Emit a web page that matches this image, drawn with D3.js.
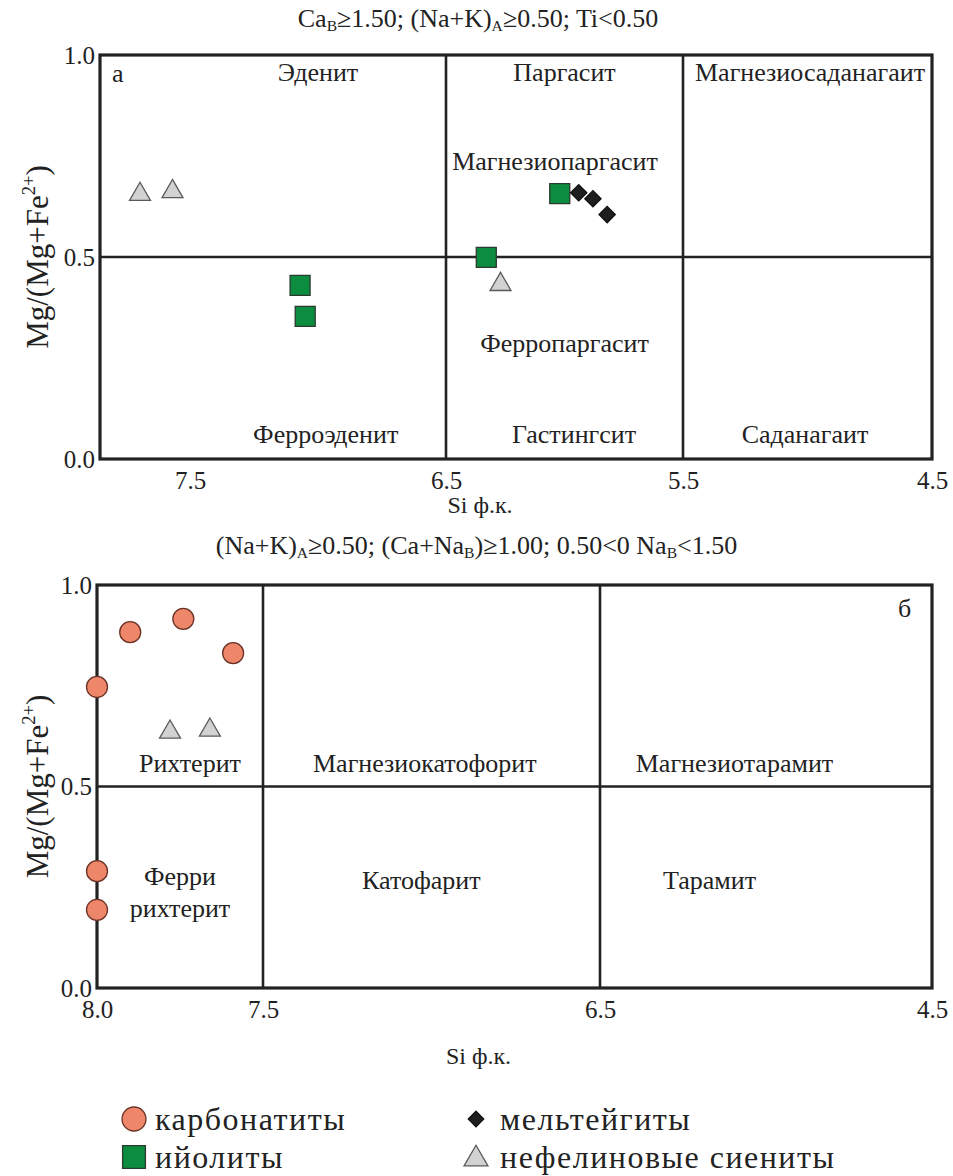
<!DOCTYPE html>
<html>
<head>
<meta charset="utf-8">
<script src="https://cdn.jsdelivr.net/npm/d3@7"></script>
<style>
  body { margin: 0; background: #fff; }
</style>
</head>
<body>
<svg id="svg" width="953" height="1176"></svg>
<script>
// --- data: [Si ф.к., Mg/(Mg+Fe2+)] ---
const syenitesA = [[7.70, 0.660], [7.57, 0.667], [6.27, 0.437]];
const ijolitesA = [[7.07, 0.430], [7.05, 0.353], [6.33, 0.499], [6.02, 0.657]];
const melteigitesA = [[5.94, 0.659], [5.88, 0.644], [5.82, 0.605]];

const carbonatitesB = [[7.90, 0.883], [7.74, 0.916], [7.59, 0.831], [8.00, 0.747], [8.00, 0.290], [8.00, 0.194]];
const syenitesB = [[7.78, 0.640], [7.66, 0.645]];

const xTicksA = [7.5, 6.5, 5.5, 4.5];
const xTicksB = [8.0, 7.5, 6.5, 4.5];
const yTicks = [0.0, 0.5, 1.0];
const xSplitA = [6.5, 5.5];
const xSplitB = [7.5, 6.5];
const ySplit = 0.5;

// field names, anchored in diagram units
const fieldsA = [
    ["Эденит", 7.0, 0.95], ["Паргасит", 6.0, 0.95], ["Магнезиосаданагаит", 4.99, 0.95],
    ["Магнезиопаргасит", 6.04, 0.73], ["Ферропаргасит", 6.0, 0.28],
    ["Ферроэденит", 6.97, 0.055], ["Гастингсит", 5.96, 0.055], ["Саданагаит", 5.01, 0.055]
];
const fieldsB = [
    ["Рихтерит", 7.72, 0.55], ["Магнезиокатофорит", 7.02, 0.55], ["Магнезиотарамит", 5.69, 0.55],
    ["Ферри", 7.75, 0.27], ["рихтерит", 7.75, 0.19],
    ["Катофарит", 7.03, 0.26], ["Тарамит", 5.84, 0.26]
];

const legendItems = [
    ["карбонатиты", "circle"], ["ийолиты", "square"],
    ["мельтейгиты", "diamond"], ["нефелиновые сиениты", "triangle"]
];

const FONT = "'Liberation Serif', 'Times New Roman', serif";
const svg = d3.select("#svg");

const styles = {
    circle: { fill: "#ee8769", stroke: "#6b3226" },
    square: { fill: "#0b8c3e", stroke: "#2a3a2e" },
    diamond: { fill: "#1e1e1e", stroke: "#111" },
    triangle: { fill: "#d2d2d2", stroke: "#5a5a5a" }
};

function symbolPath(kind, s) {
    if (kind === "circle") return d3.symbol(d3.symbolCircle, Math.PI * 10.5 * 10.5 * s)();
    if (kind === "square") return d3.symbol(d3.symbolSquare, 20 * 20 * s)();
    if (kind === "diamond") return d3.symbol(d3.symbolSquare, 11.5 * 11.5 * s)();
    return d3.symbol(d3.symbolTriangle, 190 * s)();
}

function drawMarks(g, data, kind, x, y, s = 1) {
    g.selectAll(null)
        .data(data)
        .join("path")
        .attr("d", symbolPath(kind, s))
        .attr("transform", d => `translate(${x(d[0])},${y(d[1])})` + (kind === "diamond" ? " rotate(45)" : "") + (kind === "triangle" ? " translate(0,2)" : ""))
        .attr("fill", styles[kind].fill)
        .attr("stroke", styles[kind].stroke)
        .attr("stroke-width", 1.3);
}

function label(sel, size) {
    return sel.style("font-family", FONT).style("font-size", size + "px").style("fill", "#222");
}

// text with sub/superscripts: parts = [[text, "sub"|"sup"|null], ...]
function richText(sel, parts, size) {
    parts.forEach(([t, k]) => {
        const ts = sel.append("tspan").text(t);
        if (k === "sub") ts.style("font-size", (size * 0.6) + "px").attr("baseline-shift", "-25%");
        if (k === "sup") ts.style("font-size", (size * 0.6) + "px").attr("baseline-shift", "55%");
    });
}

function drawPanel(opt) {
    const { x, y, xTicks, splits, fields, title, titleY, letter, letterPos } = opt;
    const g = svg.append("g");
    const [x0, x1] = d3.extent(x.range());
    const [y1, y0] = y.range();

    // axes (labels only, frame drawn separately)
    const xa = g.append("g")
        .attr("transform", `translate(0,${y1})`)
        .call(d3.axisBottom(x).tickValues(xTicks).tickSize(0).tickPadding(12).tickFormat(d3.format(".1f")));
    const ya = g.append("g")
        .attr("transform", `translate(${x0},0)`)
        .call(d3.axisLeft(y).tickValues(yTicks).tickSize(0).tickPadding(5).tickFormat(d3.format(".1f")));
    [xa, ya].forEach(a => {
        a.select(".domain").remove();
        label(a.selectAll("text"), 25);
    });

    // field boundaries
    g.selectAll(null).data(splits).join("line")
        .attr("x1", d => x(d)).attr("x2", d => x(d))
        .attr("y1", y0).attr("y2", y1)
        .attr("stroke", "#222").attr("stroke-width", 2.6);
    g.append("line")
        .attr("x1", x0).attr("x2", x1)
        .attr("y1", y(ySplit)).attr("y2", y(ySplit))
        .attr("stroke", "#222").attr("stroke-width", 2.6);

    g.append("rect")
        .attr("x", x0).attr("y", y0)
        .attr("width", x1 - x0).attr("height", y1 - y0)
        .attr("fill", "none").attr("stroke", "#222").attr("stroke-width", 3.2);

    label(g.selectAll(null).data(fields).join("text"), 26)
        .attr("x", d => x(d[1])).attr("y", d => y(d[2]))
        .attr("text-anchor", "middle")
        .attr("dominant-baseline", "middle")
        .text(d => d[0]);

    label(g.append("text"), 26)
        .attr("x", letterPos[0]).attr("y", letterPos[1])
        .text(letter);

    // titles
    const t = label(g.append("text"), 26)
        .attr("x", (x0 + x1) / 2 - 38).attr("y", titleY)
        .attr("text-anchor", "middle");
    richText(t, title, 26);

    label(g.append("text"), 24)
        .attr("x", (x0 + x1) / 2 - 36).attr("y", y1 + opt.xLabelDy)
        .attr("text-anchor", "middle")
        .text("Si ф.к.");

    const yl = label(g.append("text"), 31)
        .attr("transform", `translate(41,${y(0.5)}) rotate(-90)`)
        .attr("text-anchor", "middle")
        .attr("dominant-baseline", "middle");
    richText(yl, [["Mg/(Mg+Fe", null], ["2+", "sup"], [")", null]], 31);

    return g;
}

// --- panel a ---
const xA = d3.scaleLinear().domain([7.86, 7.5, 6.5, 5.5, 4.5]).range([100, 190, 446, 683, 932]);
const yA = d3.scaleLinear().domain([0, 1]).range([459, 55]);
const gA = drawPanel({
    x: xA, y: yA, xTicks: xTicksA, splits: xSplitA, fields: fieldsA,
    title: [["Ca", null], ["B", "sub"], ["≥1.50; (Na+K)", null], ["A", "sub"], ["≥0.50; Ti<0.50", null]],
    titleY: 27, letter: "а", letterPos: [112, 82], xLabelDy: 54
});
drawMarks(gA, syenitesA, "triangle", xA, yA);
drawMarks(gA, ijolitesA, "square", xA, yA);
drawMarks(gA, melteigitesA, "diamond", xA, yA);

// --- panel б ---
const xB = d3.scaleLinear().domain([8.0, 7.5, 6.5, 4.5]).range([97, 263, 600, 932]);
const yB = d3.scaleLinear().domain([0, 1]).range([988, 585]);
const gB = drawPanel({
    x: xB, y: yB, xTicks: xTicksB, splits: xSplitB, fields: fieldsB,
    title: [["(Na+K)", null], ["A", "sub"], ["≥0.50; (Ca+Na", null], ["B", "sub"], [")≥1.00; 0.50<0 Na", null], ["B", "sub"], ["<1.50", null]],
    titleY: 554, letter: "б", letterPos: [898, 617], xLabelDy: 76
});
drawMarks(gB, syenitesB, "triangle", xB, yB);
drawMarks(gB, carbonatitesB, "circle", xB, yB);

// --- legend ---
const legend = svg.append("g").attr("transform", "translate(134,1119)");
const li = legend.selectAll("g").data(legendItems).join("g")
    .attr("transform", (d, i) => `translate(${Math.floor(i / 2) * 342},${(i % 2) * 38})`);
li.append("path")
    .attr("d", d => symbolPath(d[1], d[1] === "diamond" ? 0.9 : 1.3))
    .attr("transform", d => d[1] === "diamond" ? "rotate(45)" : (d[1] === "triangle" ? "translate(0,2)" : null))
    .attr("fill", d => styles[d[1]].fill)
    .attr("stroke", d => styles[d[1]].stroke)
    .attr("stroke-width", 1.3);
label(li.append("text"), 32)
    .style("letter-spacing", "1.5px")
    .attr("x", d => d[1] === "circle" || d[1] === "square" ? 21 : 24)
    .attr("dy", "0.33em")
    .text(d => d[0]);
</script>
</body>
</html>
